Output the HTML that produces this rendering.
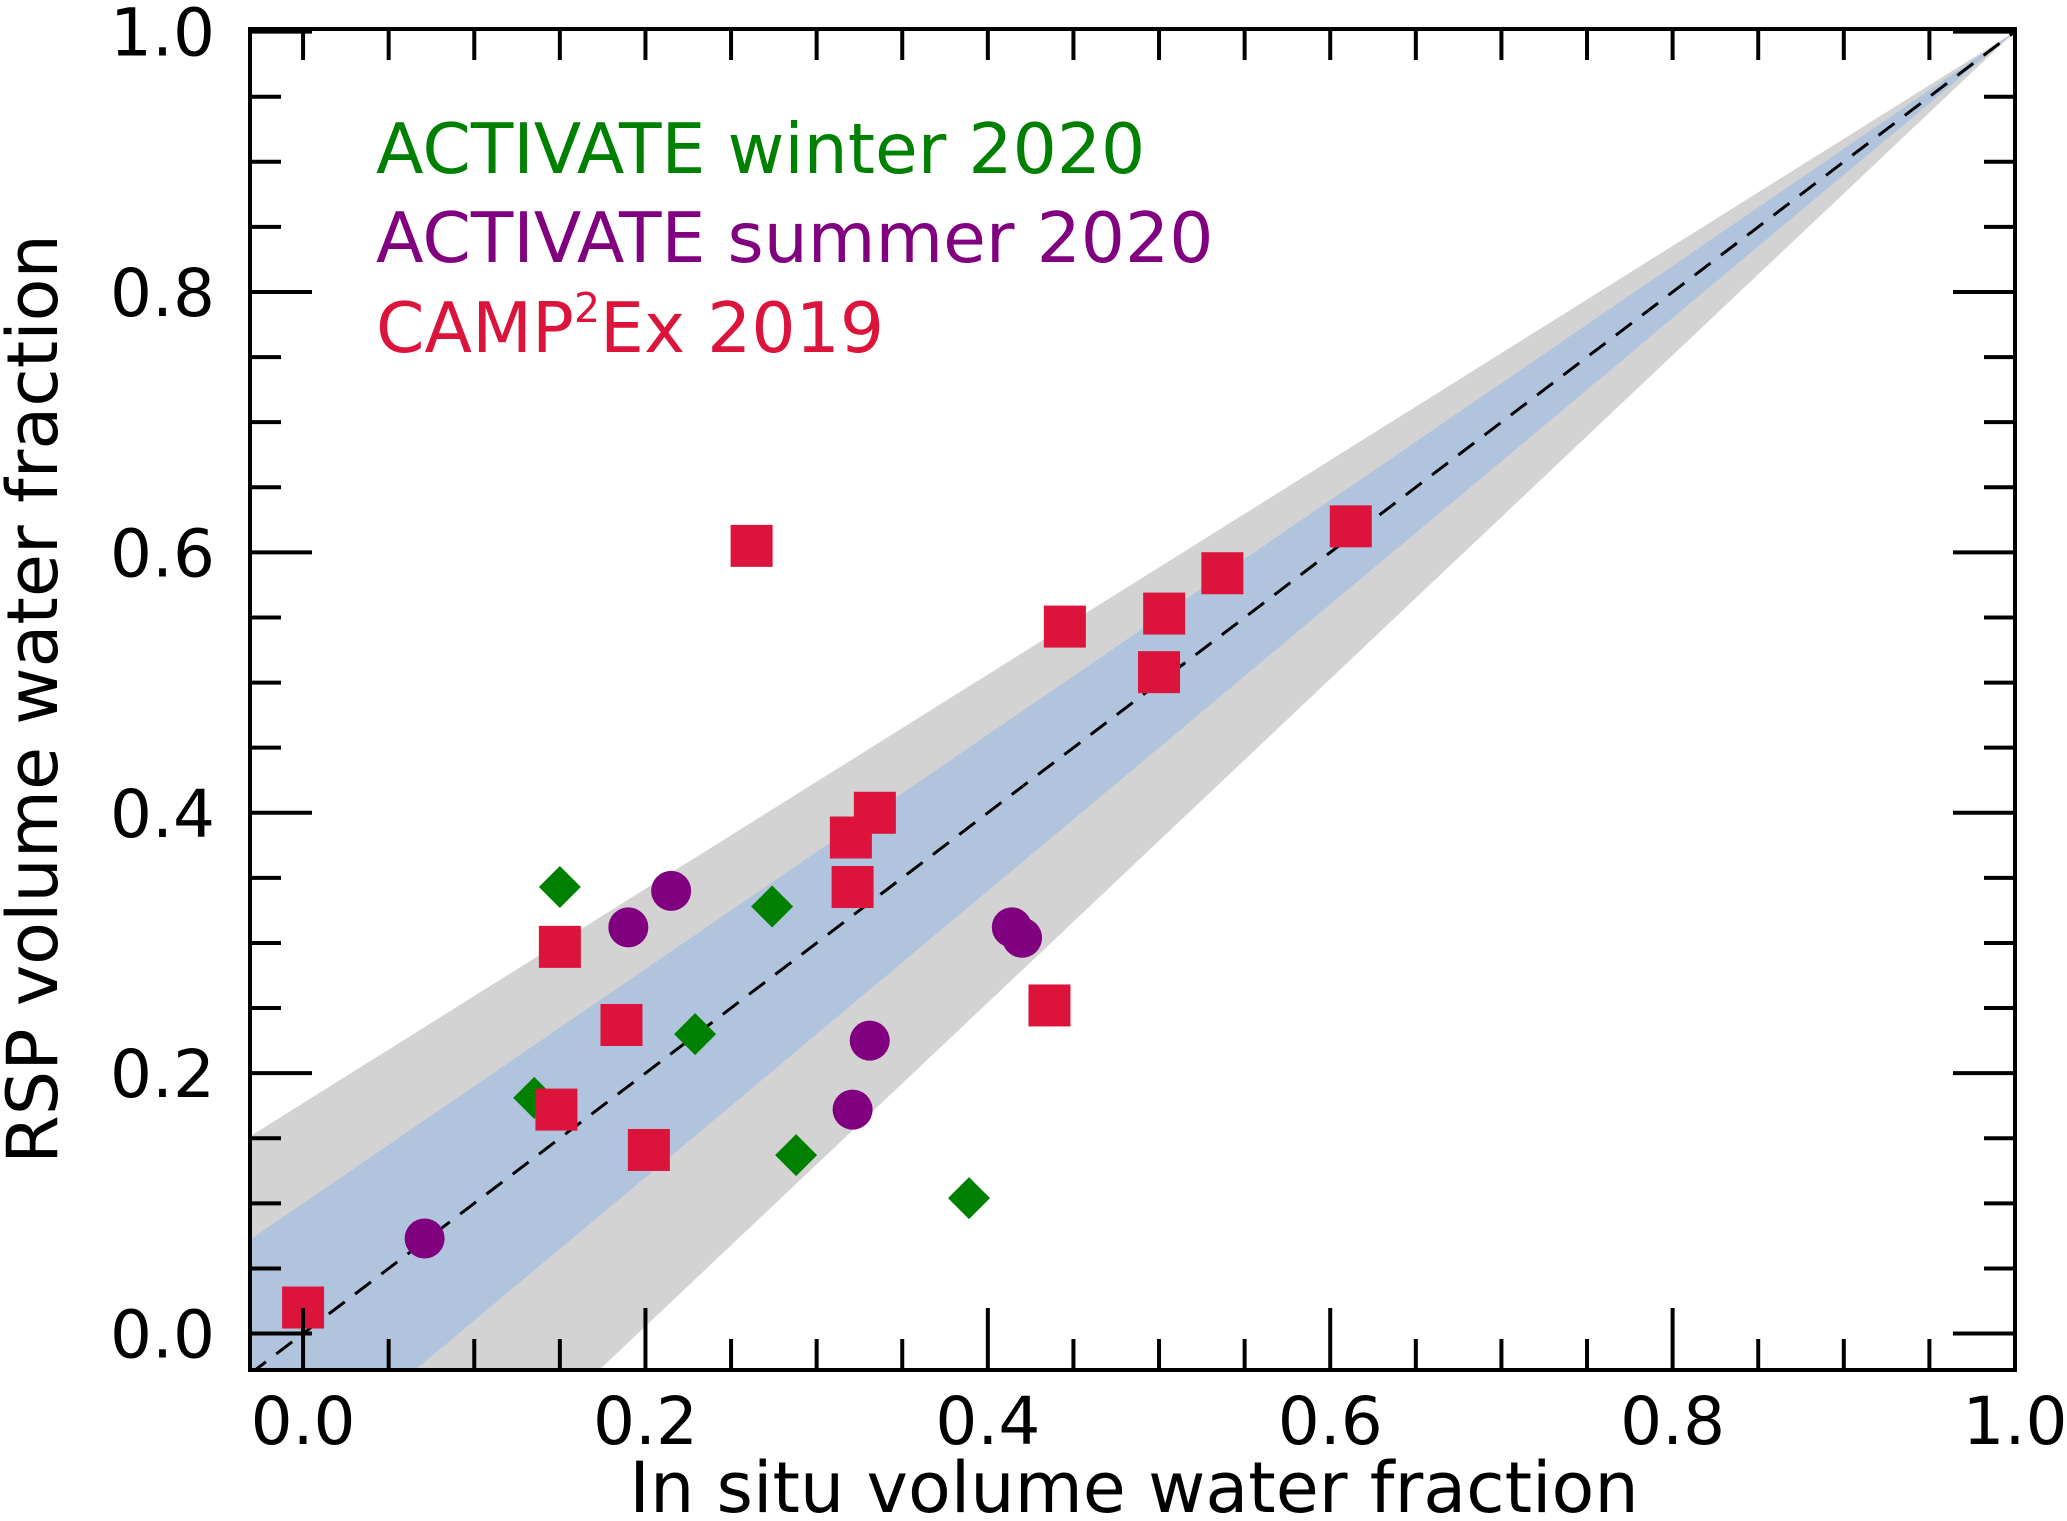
<!DOCTYPE html>
<html><head><meta charset="utf-8"><style>
html,body{margin:0;padding:0;background:#fff;overflow:hidden;width:2067px;height:1521px;}
svg{display:block;font-family:"DejaVu Sans","Liberation Sans",sans-serif;}
</style></head><body>
<svg id="chart" width="2067" height="1521" viewBox="0 0 2067 1521" xmlns="http://www.w3.org/2000/svg">
<g id="bands"></g>
<g id="marks"></g>
<g id="axes"></g>
<g font-size="69.5">
<text x="376" y="173" fill="#008000">ACTIVATE winter 2020</text>
<text x="376" y="262" fill="#800080">ACTIVATE summer 2020</text>
<text x="376" y="352" fill="#DC143C">CAMP<tspan dy="-30" font-size="41">2</tspan><tspan dy="30">Ex 2019</tspan></text>
</g>
<text x="1134" y="1512" font-size="70" text-anchor="middle">In situ volume water fraction</text>
<text transform="translate(57,699) rotate(-90)" font-size="70" text-anchor="middle">RSP volume water fraction</text>
</svg>
<script>
const winterX=[0.150,0.135,0.229,0.274,0.288,0.389];
const winterY=[0.343,0.181,0.230,0.328,0.137,0.104];
const summerX=[0.071,0.190,0.215,0.331,0.321,0.414,0.420];
const summerY=[0.073,0.312,0.340,0.225,0.172,0.312,0.304];
const campX=[0.000,0.262,0.150,0.186,0.148,0.202,0.320,0.334,0.321,0.445,0.503,0.500,0.537,0.612,0.436];
const campY=[0.020,0.605,0.297,0.237,0.172,0.141,0.381,0.400,0.343,0.543,0.553,0.508,0.584,0.620,0.252];
const xTicks=[0,0.2,0.4,0.6,0.8,1.0];
const yTicks=[0,0.2,0.4,0.6,0.8,1.0];
const tickLabels=["0.0","0.2","0.4","0.6","0.8","1.0"];
const grayUpper=0.177, grayLower=0.243, blueUpper=0.1, blueLower=0.10;

const X0=-0.031,X1=1.0,Y0=-0.028,Y1=1.002;
const PL=250,PR=2015,PB=1370,PT=29;
const sx=v=>PL+(v-X0)/(X1-X0)*(PR-PL);
const sy=v=>PB-(v-Y0)/(Y1-Y0)*(PB-PT);
const NS="http://www.w3.org/2000/svg";
function mk(t,a,p){const e=document.createElementNS(NS,t);for(const k in a)e.setAttribute(k,a[k]);p.appendChild(e);return e;}
const bands=document.getElementById('bands'),marks=document.getElementById('marks'),axes=document.getElementById('axes');
function band(up,lo,fill,name){
  const pts=[];
  for(let i=0;i<=50;i++){const x=X0+(1-X0)*i/50;pts.push([sx(x),sy(x+up*(1-x))]);}
  for(let i=50;i>=0;i--){const x=X0+(1-X0)*i/50;pts.push([sx(x),sy(x-lo*(1-x))]);}
  const e=mk('polygon',{points:pts.map(p=>p.join(',')).join(' '),fill:fill},bands);
  
  
}
mk('clipPath',{id:'clip'},bands);
document.getElementById('clip').appendChild(document.createElementNS(NS,'rect'));
const cr=document.querySelector('#clip rect');cr.setAttribute('x',PL);cr.setAttribute('y',PT);cr.setAttribute('width',PR-PL);cr.setAttribute('height',PB-PT);
bands.setAttribute('clip-path','url(#clip)');
band(grayUpper,grayLower,'#d3d3d3','gray-band');
band(blueUpper,blueLower,'#b0c4de','blue-band');
const dl=mk('line',{x1:sx(X0),y1:sy(X0),x2:sx(1),y2:sy(1),stroke:'#000','stroke-width':3,'stroke-dasharray':'20 13'},bands);


winterX.forEach((x,i)=>{const cx=sx(x),cy=sy(winterY[i]),r=21;
  const e=mk('polygon',{points:`${cx},${cy-r} ${cx+r},${cy} ${cx},${cy+r} ${cx-r},${cy}`,fill:'#008000'},marks);
  
  });
summerX.forEach((x,i)=>{
  const e=mk('circle',{cx:sx(x),cy:sy(summerY[i]),r:20,fill:'#800080'},marks);
  
  });
campX.forEach((x,i)=>{
  const e=mk('rect',{x:sx(x)-21,y:sy(campY[i])-21,width:42,height:42,fill:'#DC143C'},marks);
  
  });
for(let k=0;k<=20;k++){const v=k*0.05,maj=(k%4===0);const L=maj?62:31;
  const x=sx(v);
  mk('line',{x1:x,y1:PB,x2:x,y2:PB-L,stroke:'#000','stroke-width':4},axes);
  mk('line',{x1:x,y1:PT,x2:x,y2:PT+31,stroke:'#000','stroke-width':4},axes);
  const y=sy(v);
  mk('line',{x1:PL,y1:y,x2:PL+L,y2:y,stroke:'#000','stroke-width':4},axes);
  mk('line',{x1:PR,y1:y,x2:PR-L,y2:y,stroke:'#000','stroke-width':4},axes);}
const fr=mk('rect',{x:PL,y:PT,width:PR-PL,height:PB-PT,fill:'none',stroke:'#000','stroke-width':4},axes);


xTicks.forEach((v,i)=>{const t=mk('text',{x:sx(v),y:1444,'font-size':66,'text-anchor':'middle'},axes);t.textContent=tickLabels[i];
  
  });
yTicks.forEach((v,i)=>{const t=mk('text',{x:215,y:sy(v)+24,'font-size':66,'text-anchor':'end'},axes);t.textContent=tickLabels[i];
  
  });
</script>
</body></html>
